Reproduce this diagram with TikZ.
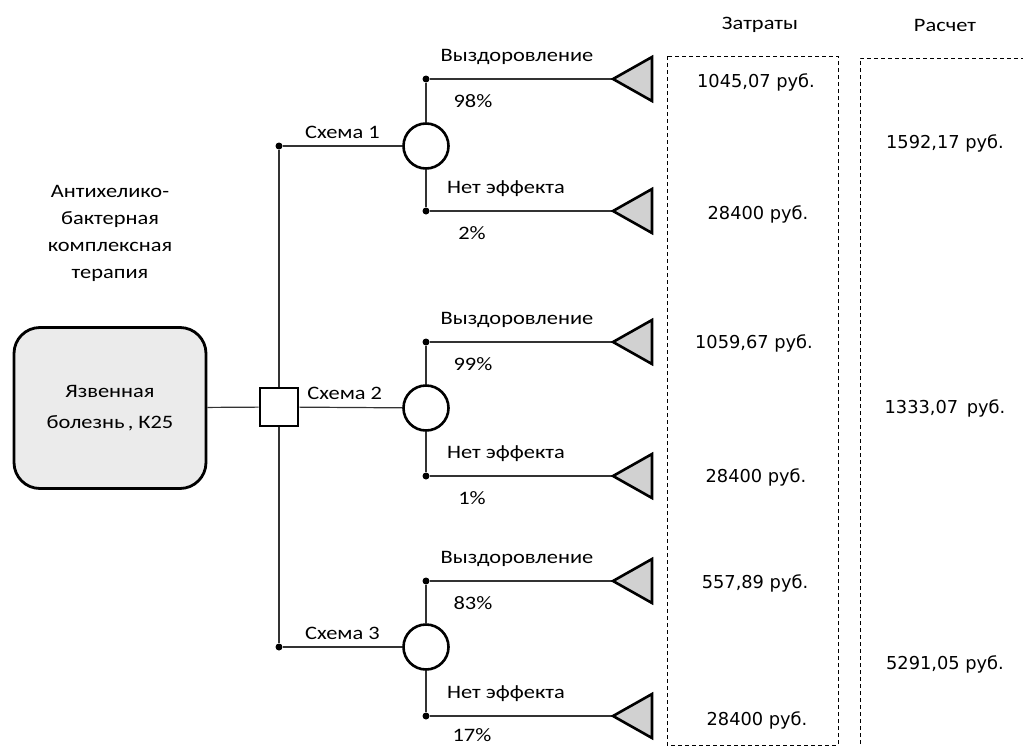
\documentclass[tikz,border=0pt]{standalone}
\usepackage{fontspec}
\setmainfont{Carlito}[FakeStretch=1.18]
\newfontfamily\valfont{DejaVu Sans}
\usetikzlibrary{positioning}

\tikzset{
  branch/.style={draw=black!80, line width=1.2pt},
  chance/.style={circle, draw, line width=2.6pt, minimum size=45pt, inner sep=0pt, fill=white},
  decision/.style={rectangle, draw, line width=2.6pt, minimum size=38pt, inner sep=0pt, fill=white},
  rootbox/.style={rectangle, rounded corners=26pt, draw, line width=2.8pt, fill=black!8,
    minimum width=192pt, minimum height=161pt, align=center, font=\fontsize{19}{31}\selectfont},
  jdot/.style={circle, fill=black, inner sep=0pt, minimum size=7pt},
  endtri/.style={draw, line width=2.6pt, fill=black!18, line join=miter},
  lbl/.style={font=\fontsize{19}{27}\selectfont, align=center, inner sep=0pt},
  val/.style={font=\valfont\fontsize{17.8}{21}\selectfont, inner sep=0pt},
  frame/.style={draw, dash pattern=on 4pt off 3pt, line width=1pt}
}

\begin{document}
\begin{tikzpicture}[x=1pt, y=-1pt]
  \useasboundingbox (0,0) rectangle (1023,747);

  % --- 1. root and decision ---
  \node[rootbox] (root) at (110,408) {Язвенная\\болезнь\,, К25};
  \node[lbl] (therapy) at (110,233) {Антихелико-\\бактерная\\комплексная\\терапия};
  \node[decision] (dec) at (279,407) {};
  \draw[branch] (root) -- (dec);

  % --- 2. scheme junctions ---
  \node[jdot] (d1) at (279,146) {};
  \node[jdot] (d3) at (279,647) {};
  \draw[branch] (d1) -- (dec);
  \draw[branch] (dec) -- (d3);

  % --- 3. chance nodes with outcomes ---
  \foreach \i/\y/\up/\dn/\pu/\pd in {1/146/79/211/98/2, 2/408/342/476/99/1, 3/647/581/716/83/17} {
    \node[chance] (ch\i) at (426,\y) {};
    \node[jdot] (u\i) at (426,\up) {};
    \node[jdot] (v\i) at (426,\dn) {};
    \coordinate (tu\i) at (613,\up);
    \coordinate (tv\i) at (613,\dn);
    \draw[branch] (ch\i) -- (u\i);
    \draw[branch] (ch\i) -- (v\i);
    \draw[branch] (u\i) -- (tu\i);
    \draw[branch] (v\i) -- (tv\i);
    \draw[endtri] (tu\i) -- ++(39,-22) -- ++(0,44) -- cycle;
    \draw[endtri] (tv\i) -- ++(39,-22) -- ++(0,44) -- cycle;
    \node[lbl] (ul\i) at (517,\up-22) {Выздоровление};
    \node[lbl] (up\i) at (473,\up+22) {\pu\%};
    \node[lbl] (vl\i) at (506,\dn-22) {Нет эффекта};
    \node[lbl] (vp\i) at (472,{min(\dn+22,735)}) {\pd\%};
  }

  % --- 4. scheme branches ---
  \draw[branch] (d1) -- node[lbl, above=7pt] (s1) {Схема 1} (ch1);
  \draw[branch] (dec) -- node[lbl, above=7pt, xshift=-6pt] (s2) {Схема 2} (ch2);
  \draw[branch] (d3) -- node[lbl, above=7pt] (s3) {Схема 3} (ch3);

  % --- 5. cost columns ---
  \draw[frame] (667,56) rectangle (838,745);
  \draw[frame] (860,800) -- (860,58) -- (1040,58);
  \node[lbl] (hcost) at (760,25) {Затраты};
  \node[lbl] (hcalc) at (945,25) {Расчет};

  \node[val] (c1) at (756,82) {1045,07 руб.};
  \node[val] (c2) at (758,214) {28400 руб.};
  \node[val] (c3) at (754,343) {1059,67 руб.};
  \node[val] (c4) at (756,477) {28400 руб.};
  \node[val] (c5) at (755,583) {557,89 руб.};
  \node[val] (c6) at (757,720) {28400 руб.};

  \node[val] (r1) at (945,143) {1592,17 руб.};
  \node[val] (r2) at (945,408) {1333,07 \,руб.};
  \node[val] (r3) at (945,664) {5291,05 руб.};

\end{tikzpicture}
\end{document}
